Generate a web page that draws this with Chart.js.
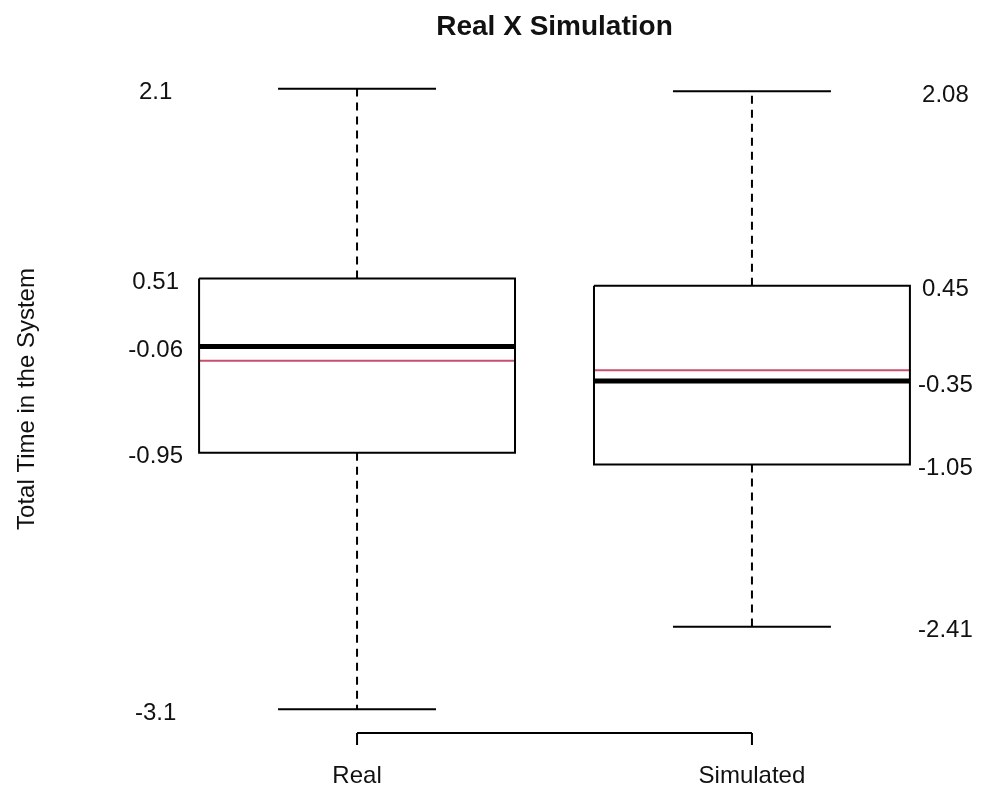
<!DOCTYPE html>
<html>
<head>
<meta charset="utf-8">
<title>Real X Simulation</title>
<script src="https://cdn.jsdelivr.net/npm/chart.js@4.4.1/dist/chart.umd.min.js"></script>
<style>
  body { margin: 0; background: #fff; }
  #wrap { width: 981px; height: 790px; position: relative; }
</style>
</head>
<body>
<div id="wrap"><canvas id="chart" width="981" height="790"></canvas></div>
<script>
const groups = ["Real", "Simulated"];
const mins = [-3.1, -2.41];
const q1s = [-0.95, -1.05];
const medians = [-0.06, -0.35];
const means = [-0.18, -0.26];
const q3s = [0.51, 0.45];
const maxs = [2.1, 2.08];
// where the value labels sit (left of Real, right of Simulated)
const labelX = [0.49, 2.49];

const boxHalf = 0.4;
const capHalf = 0.2;
const FONT = "'Liberation Sans', Arial, sans-serif";

const datasets = [];
groups.forEach((g, i) => {
  const c = i + 1;
  // box
  datasets.push({
    data: [
      { x: c - boxHalf, y: q3s[i] }, { x: c + boxHalf, y: q3s[i] },
      { x: c + boxHalf, y: q1s[i] }, { x: c - boxHalf, y: q1s[i] },
      { x: c - boxHalf, y: q3s[i] }
    ],
    borderColor: "#000", borderWidth: 2
  });
  // whiskers
  datasets.push({
    data: [{ x: c, y: q3s[i] }, { x: c, y: maxs[i] }],
    borderColor: "#000", borderWidth: 2, borderDash: [8, 6]
  });
  datasets.push({
    data: [{ x: c, y: q1s[i] }, { x: c, y: mins[i] }],
    borderColor: "#000", borderWidth: 2, borderDash: [8, 6]
  });
  // caps
  datasets.push({
    data: [{ x: c - capHalf, y: maxs[i] }, { x: c + capHalf, y: maxs[i] }],
    borderColor: "#000", borderWidth: 2
  });
  datasets.push({
    data: [{ x: c - capHalf, y: mins[i] }, { x: c + capHalf, y: mins[i] }],
    borderColor: "#000", borderWidth: 2
  });
  // mean
  datasets.push({
    data: [{ x: c - boxHalf, y: means[i] }, { x: c + boxHalf, y: means[i] }],
    borderColor: "#c8506e", borderWidth: 2
  });
  // median
  datasets.push({
    data: [{ x: c - boxHalf, y: medians[i] }, { x: c + boxHalf, y: medians[i] }],
    borderColor: "#000", borderWidth: 5
  });
});

const decorations = {
  id: "decorations",
  afterDraw(chart) {
    const { ctx, chartArea, scales } = chart;
    const xs = scales.x, ys = scales.y;
    ctx.save();
    ctx.fillStyle = "#111";

    // title
    ctx.font = "bold 28px " + FONT;
    ctx.textAlign = "center";
    ctx.textBaseline = "middle";
    ctx.fillText("Real X Simulation", (chartArea.left + chartArea.right) / 2, 27);

    // value labels
    ctx.font = "24px " + FONT;
    groups.forEach((g, i) => {
      const px = xs.getPixelForValue(labelX[i]);
      [maxs[i], q3s[i], medians[i], q1s[i], mins[i]].forEach((v) => {
        ctx.fillText(String(v), px, ys.getPixelForValue(v) + 4);
      });
    });

    // bottom axis: line from first to last tick, ticks pointing down
    const yb = chartArea.bottom - 1;
    const x1 = xs.getPixelForValue(1), x2 = xs.getPixelForValue(groups.length);
    ctx.strokeStyle = "#000";
    ctx.lineWidth = 2;
    ctx.beginPath();
    ctx.moveTo(x1, yb);
    ctx.lineTo(x2, yb);
    groups.forEach((g, i) => {
      const px = xs.getPixelForValue(i + 1);
      ctx.moveTo(px, yb);
      ctx.lineTo(px, yb + 12);
    });
    ctx.stroke();
    groups.forEach((g, i) => {
      ctx.fillText(g, xs.getPixelForValue(i + 1), 776);
    });

    // y axis title
    ctx.translate(27, (chartArea.top + chartArea.bottom) / 2);
    ctx.rotate(-Math.PI / 2);
    ctx.fillText("Total Time in the System", 0, 0);
    ctx.restore();
  }
};

new Chart(document.getElementById("chart"), {
  type: "line",
  data: { datasets: datasets },
  options: {
    responsive: false,
    animation: false,
    layout: { padding: { left: 128, right: 0, top: 64, bottom: 56 } },
    elements: { point: { radius: 0 }, line: { tension: 0 } },
    plugins: { legend: { display: false }, tooltip: { enabled: false } },
    scales: {
      x: { type: "linear", min: 0.42, max: 2.58, display: false },
      y: { type: "linear", min: -3.308, max: 2.308, display: false }
    }
  },
  plugins: [decorations]
});
</script>
</body>
</html>
